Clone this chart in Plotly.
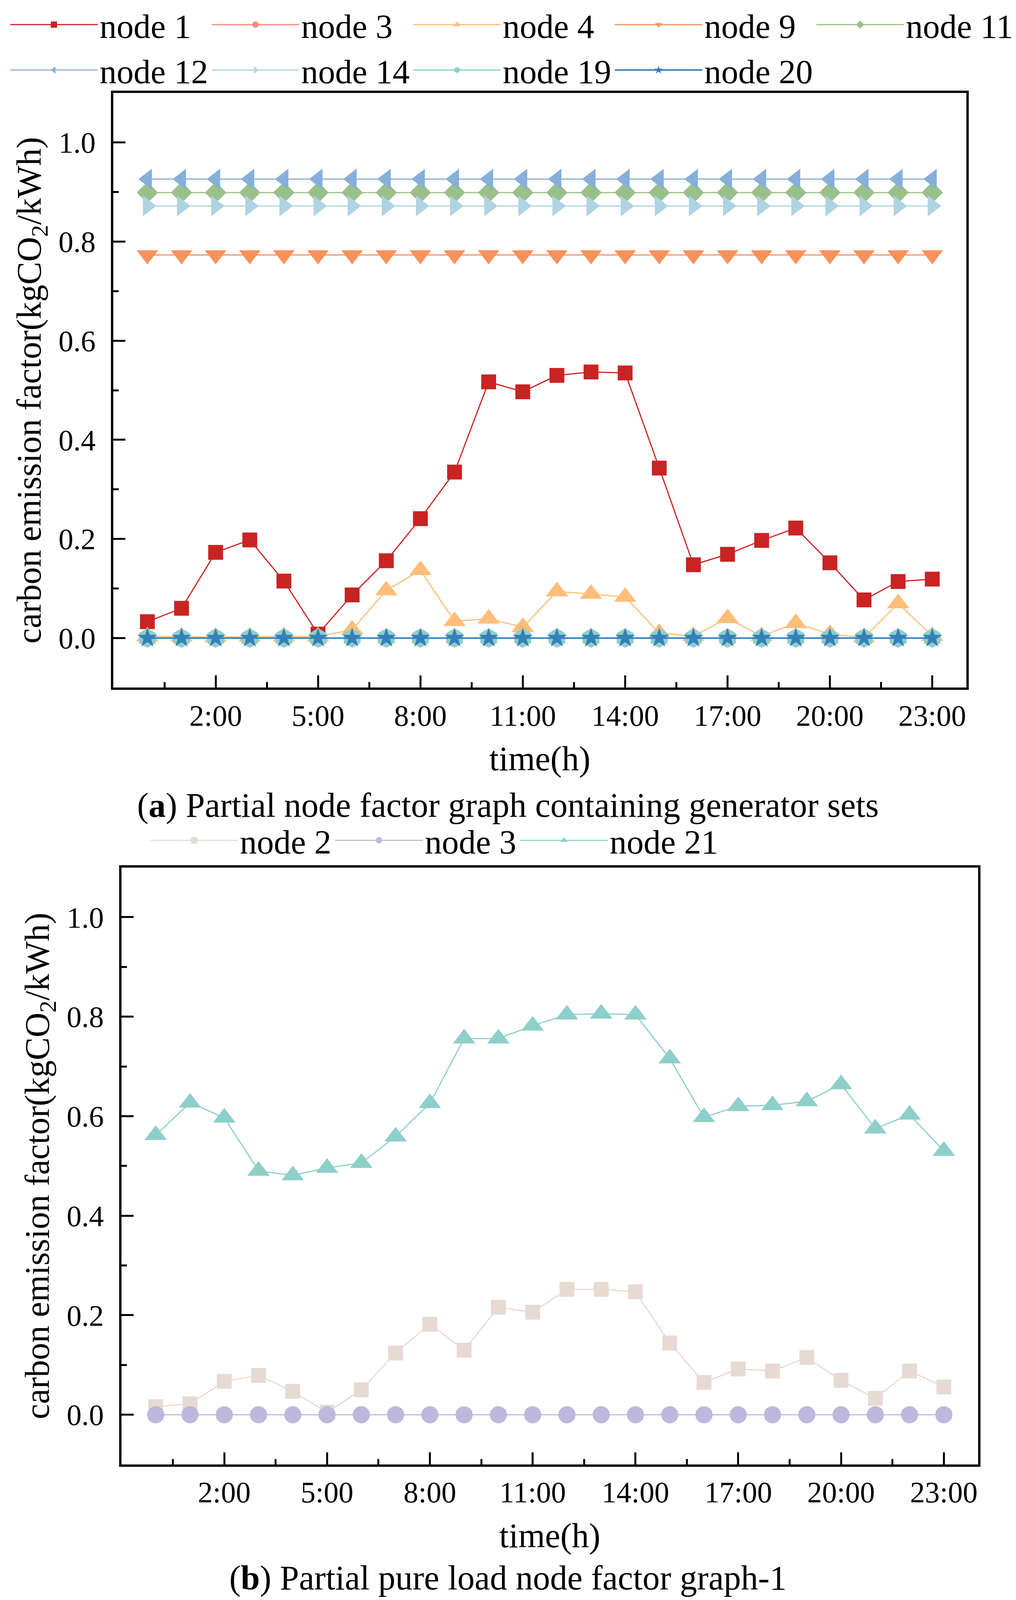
import plotly.graph_objects as go

hours = list(range(24))
tick_vals = [2, 5, 8, 11, 14, 17, 20, 23]
tick_text = ["2:00", "5:00", "8:00", "11:00", "14:00", "17:00", "20:00", "23:00"]
y_tick_vals = [0.0, 0.2, 0.4, 0.6, 0.8, 1.0]
y_tick_text = ["0.0", "0.2", "0.4", "0.6", "0.8", "1.0"]

# ---- panel (a) ----
node1 = [0.033, 0.060, 0.173, 0.198, 0.115, 0.008, 0.087, 0.156, 0.241, 0.335, 0.517, 0.497,
         0.530, 0.537, 0.535, 0.343, 0.148, 0.169, 0.197, 0.222, 0.152, 0.077, 0.114, 0.119]
node3_a = [0.0] * 24
node4 = [0.003, 0.003, 0.002, 0.003, 0.003, 0.003, 0.017, 0.096, 0.137, 0.034, 0.039, 0.022,
         0.094, 0.089, 0.083, 0.010, 0.004, 0.040, 0.004, 0.030, 0.008, 0.001, 0.070, 0.004]
node9 = [0.773] * 24
node11 = [0.899] * 24
node12 = [0.926] * 24
node14 = [0.872] * 24
node19 = [0.0] * 24
node20 = [0.0] * 24

# ---- panel (b) ----
node2 = [0.016, 0.022, 0.067, 0.079, 0.047, 0.005, 0.050, 0.124, 0.182, 0.130, 0.216, 0.206,
         0.252, 0.252, 0.247, 0.144, 0.065, 0.092, 0.088, 0.115, 0.069, 0.033, 0.088, 0.056]
node3_b = [0.0] * 24
node21 = [0.562, 0.627, 0.597, 0.490, 0.481, 0.496, 0.506, 0.559, 0.626, 0.756, 0.756, 0.782,
          0.804, 0.806, 0.804, 0.716, 0.598, 0.620, 0.622, 0.630, 0.664, 0.575, 0.603, 0.530]

FONT = "Liberation Serif"
W, H = 2601, 4713
XT_STANDOFF = 68

fig = go.Figure()

series_a = [
    ("node 1", node1, "#C82423", "square", 38, 3),
    ("node 3", node3_a, "#FA8878", "circle", 44, 3),
    ("node 4", node4, "#FFBE7A", "triangle-up", 50, 3),
    ("node 9", node9, "#F7925B", "triangle-down", 48, 3),
    ("node 11", node11, "#9AC08A", "diamond", 42, 3),
    ("node 12", node12, "#86AFDA", "triangle-left", 46, 3),
    ("node 14", node14, "#AED3E3", "triangle-right", 46, 3),
    ("node 19", node19, "#8ECFC9", "hexagon", 50, 3),
    ("node 20", node20, "#3480B8", "star", 38, 4),
]
for name, vals, col, sym, sz, lw in series_a:
    fig.add_trace(go.Scatter(
        x=hours, y=vals, name=name, mode="lines+markers",
        line=dict(color=col, width=lw),
        marker=dict(color=col, symbol=sym, size=sz, line=dict(width=0)),
        xaxis="x", yaxis="y", legend="legend"))

series_b = [
    ("node 2", node2, "#E7DAD2", "square", 38, 3),
    ("node 3", node3_b, "#BEB8DC", "circle", 44, 3),
    ("node 21", node21, "#8ECFC9", "triangle-up", 50, 3),
]
for name, vals, col, sym, sz, lw in series_b:
    fig.add_trace(go.Scatter(
        x=hours, y=vals, name=name, mode="lines+markers",
        line=dict(color=col, width=lw),
        marker=dict(color=col, symbol=sym, size=sz, line=dict(width=0)),
        xaxis="x2", yaxis="y2", legend="legend2"))

tickfont = dict(family=FONT, size=76, color="black")
titlefont = dict(family=FONT, size=88, color="black")


def xax(domain, anchor):
    return dict(domain=domain, anchor=anchor, range=[-1, 24],
                tickmode="array", tickvals=tick_vals, ticktext=tick_text,
                ticks="inside", ticklen=31, tickwidth=5, tickcolor="black",
                minor=dict(tick0=0.5, dtick=3, ticks="inside", ticklen=14,
                           tickwidth=5, tickcolor="black"),
                showline=True, linewidth=6, linecolor="black", mirror=True,
                showgrid=False, zeroline=False, tickfont=tickfont,
                ticklabelstandoff=0,
                title=dict(text="time(h)", font=titlefont, standoff=XT_STANDOFF))


def yax(domain, anchor):
    return dict(domain=domain, anchor=anchor, range=[-0.1, 1.1],
                tickmode="array", tickvals=y_tick_vals, ticktext=y_tick_text,
                ticks="inside", ticklen=31, tickwidth=5, tickcolor="black",
                minor=dict(tick0=0.1, dtick=0.2, ticks="inside", ticklen=14,
                           tickwidth=5, tickcolor="black"),
                showline=True, linewidth=6, linecolor="black", mirror=True,
                showgrid=False, zeroline=False, tickfont=tickfont,
                ticklabelstandoff=24,
                title=dict(text="carbon emission factor(kgCO<sub>2</sub>/kWh)",
                           font=titlefont, standoff=18))


legfont = dict(family=FONT, size=87, color="black")

fig.update_layout(
    width=W, height=H,
    margin=dict(l=0, r=0, t=0, b=0),
    paper_bgcolor="white", plot_bgcolor="white",
    showlegend=True,
    xaxis=xax([290 / W, 2474 / W], "y"),
    yaxis=yax([1 - 2013 / H, 1 - 253 / H], "x"),
    xaxis2=xax([311 / W, 2504 / W], "y2"),
    yaxis2=yax([1 - 4312 / H, 1 - 2545 / H], "x2"),
    legend=dict(orientation="h", x=28 / W, xanchor="left", y=1 + 22 / H, yanchor="top",
                font=legfont, itemwidth=224, entrywidth=277, entrywidthmode="pixels",
                bgcolor="rgba(0,0,0,0)", tracegroupgap=0, itemsizing="trace"),
    legend2=dict(orientation="h", x=380 / W, xanchor="left", y=1 - 2392 / H, yanchor="top",
                 font=legfont, itemwidth=224,
                 bgcolor="rgba(0,0,0,0)", itemsizing="trace"),
    annotations=[
        dict(text="(<b>a</b>) Partial node factor graph containing generator sets",
             x=0.5, y=1 - 2361 / H, xref="paper", yref="paper",
             xanchor="center", yanchor="middle", showarrow=False,
             font=dict(family=FONT, size=88, color="black")),
        dict(text="(<b>b</b>) Partial pure load node factor graph-1",
             x=0.5, y=1 - 4648 / H, xref="paper", yref="paper",
             xanchor="center", yanchor="middle", showarrow=False,
             font=dict(family=FONT, size=88, color="black")),
    ],
)

# If the visible viewport is shorter than the requested figure, fit the figure to it
# (vertical positions stay proportional; pixel-based title gap shrinks accordingly).
post = (
    "document.body.style.margin='0px';"
    "document.body.style.overflow='hidden';"
    "document.documentElement.style.overflow='hidden';"
    "var gd=document.getElementById('{plot_id}');"
    "var vh=window.innerHeight||document.documentElement.clientHeight;"
    "if(vh>1500 && vh<" + str(H - 20) + "){"
    "var s=vh/" + str(H) + ";"
    "var so=Math.max(10," + str(XT_STANDOFF) + "-(1-s)*215);"
    "Plotly.relayout(gd,{height:vh,'xaxis.title.standoff':so,'xaxis2.title.standoff':so});}"
)

fig.write_html("out.html", config={"displayModeBar": False}, post_script=post)
